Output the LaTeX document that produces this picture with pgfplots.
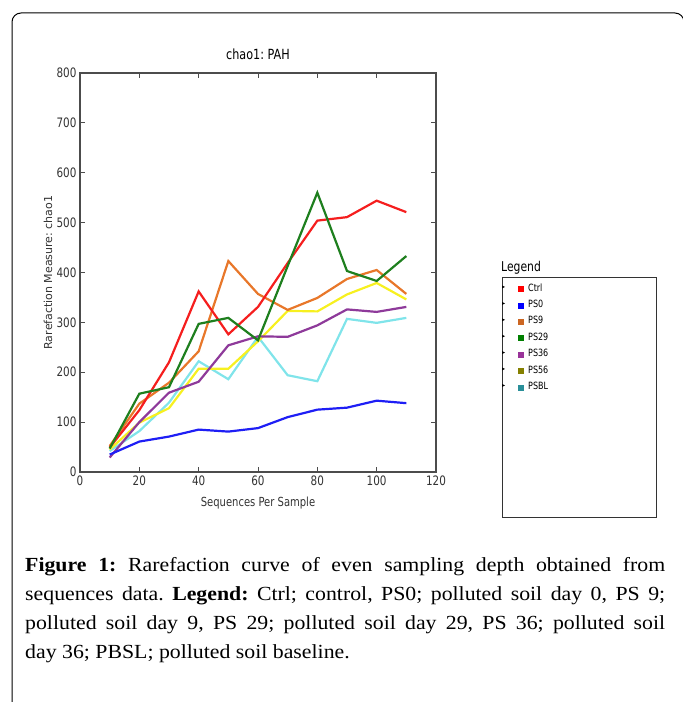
\documentclass[border=0pt]{standalone}
\usepackage{pgfplots}
\pgfplotsset{compat=1.18}
\usepackage{fontspec}
\setmainfont{Liberation Serif}[FakeStretch=1.09]
\newfontfamily\cf[FakeStretch=0.8]{DejaVu Sans}
\newfontfamily\cfy{DejaVu Sans}
\frenchspacing

% line colours
\definecolor{cRed}{HTML}{F51E1E}
\definecolor{cBlue}{HTML}{1E1EF5}
\definecolor{cOrange}{HTML}{E8772A}
\definecolor{cGreen}{HTML}{1E7F1E}
\definecolor{cPurple}{HTML}{8E3A9A}
\definecolor{cYellow}{HTML}{F7F020}
\definecolor{cCyan}{HTML}{80E4EA}
% legend swatches
\definecolor{lOrange}{HTML}{CC6622}
\definecolor{lGreen}{HTML}{007F00}
\definecolor{lPurple}{HTML}{993399}
\definecolor{lOlive}{HTML}{858000}
\definecolor{lTeal}{HTML}{2A8F99}

\begin{document}
\begin{tikzpicture}[x=1pt,y=1pt]
\useasboundingbox (0,0) rectangle (683,702);
% page frame
\draw[line width=1pt, rounded corners=9pt] (12,-20) -- (12,689) -- (684,689) -- (684,-20);

\begin{axis}[
    at={(80pt,230pt)}, anchor=south west,
    scale only axis,
    width=356pt, height=399pt,
    xmin=0, xmax=120, ymin=0, ymax=800,
    xtick={0,20,...,120},
    ytick={0,100,...,800},
    tick align=inside,
    tick pos=both,
    xticklabel pos=left, yticklabel pos=left,
    major tick length=5pt,
    tick style={color=black!70, line width=0.8pt},
    axis line style={color=black!70, line width=1.2pt},
    ticklabel style={font=\cf\fontsize{13}{13}\selectfont, text=black!80},
    /pgf/number format/assume math mode=true,
    title={chao1: PAH},
    title style={font=\cf\fontsize{14}{14}\selectfont, at={(axis description cs:0.5,1.033)}, anchor=center},
    xlabel={Sequences Per Sample},
    xlabel style={font=\cf\fontsize{12.5}{12.5}\selectfont, text=black!80, at={(axis description cs:0.5,-0.078)}, anchor=center},
    ylabel={Rarefaction Measure: chao1},
    ylabel style={font=\cfy\fontsize{11}{11}\selectfont, text=black!80, at={(axis description cs:-0.09,0.5)}, anchor=center},
    every axis plot/.append style={line width=2.2pt},
    legend image code/.code={\path[#1, fill, draw=none] (0pt,-3pt) rectangle (6pt,3pt);},
    legend style={draw=none, fill=none, at={(axis description cs:1.222,0.484)}, anchor=north west,
        font=\cf\fontsize{10}{10}\selectfont, row sep=0pt,
        nodes={inner xsep=4pt, inner ysep=0pt, text height=10pt, text depth=6.4pt}},
    legend cell align=left,
]
\addlegendimage{color=red}
\addlegendimage{color=blue}
\addlegendimage{color=lOrange}
\addlegendimage{color=lGreen}
\addlegendimage{color=lPurple}
\addlegendimage{color=lOlive}
\addlegendimage{color=lTeal}
\legend{Ctrl, PS0, PS9, PS29, PS36, PS56, PSBL}

% PSBL
\addplot[cCyan, forget plot] coordinates {(10,42) (20,82) (30,139) (40,222) (50,186) (60,271) (70,194) (80,182) (90,307) (100,299) (110,309)};
% PS56
\addplot[cYellow, forget plot] coordinates {(10,45) (20,99) (30,128) (40,207) (50,207) (60,262) (70,323) (80,322) (90,356) (100,379) (110,346)};
% PS36
\addplot[cPurple, forget plot] coordinates {(10,29) (20,100) (30,159) (40,181) (50,254) (60,272) (70,271) (80,294) (90,326) (100,321) (110,331)};
% PS9
\addplot[cOrange, forget plot] coordinates {(10,52) (20,137) (30,179) (40,242) (50,423) (60,357) (70,325) (80,349) (90,387) (100,405) (110,357)};
% PS0
\addplot[cBlue, forget plot] coordinates {(10,35) (20,61) (30,71) (40,85) (50,81) (60,88) (70,110) (80,125) (90,129) (100,143) (110,138)};
% Ctrl
\addplot[cRed, forget plot] coordinates {(10,49) (20,124) (30,220) (40,362) (50,276) (60,331) (70,419) (80,504) (90,511) (100,544) (110,521)};
% PS29
\addplot[cGreen, forget plot] coordinates {(10,47) (20,157) (30,170) (40,297) (50,309) (60,264) (70,413) (80,560) (90,403) (100,383) (110,433)};
\end{axis}

% legend box
\node[anchor=south west, inner sep=0pt, font=\cf\fontsize{13.5}{13.5}\selectfont] at (501,427) {Legend};
\draw[line width=0.8pt, color=black!80] (502,425) rectangle (656,185);
\foreach \i in {0,...,6} {
  \fill (502,415-16.4*\i+1.5) -- (505,415-16.4*\i) -- (502,415-16.4*\i-1.5) -- cycle;
}

% caption
\node[anchor=north west, inner sep=0pt, text width=640pt, align=justify,
      font=\fontsize{20}{29}\selectfont] at (25,145) {%
\textbf{Figure 1:} Rarefaction curve of even sampling depth obtained from\linebreak
sequences data. \textbf{Legend:} Ctrl; control, PS0; polluted soil day 0, PS 9;\linebreak
polluted soil day 9, PS 29; polluted soil day 29, PS 36; polluted soil\linebreak
day 36; PBSL; polluted soil baseline.\par};
\end{tikzpicture}
\end{document}
